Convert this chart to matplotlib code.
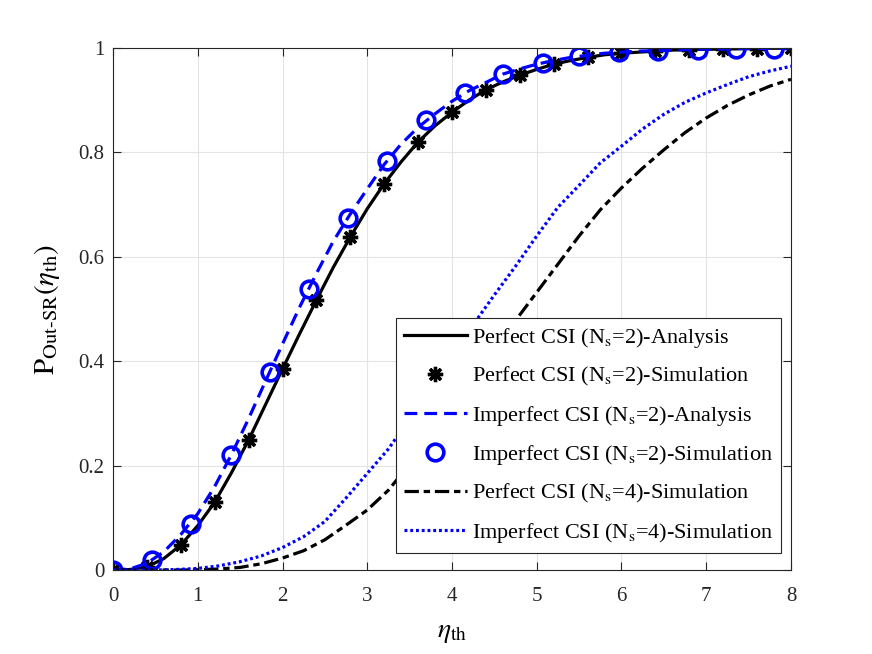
import matplotlib
matplotlib.use("Agg")
import matplotlib.pyplot as plt

plt.rcParams["font.family"] = ["Liberation Serif", "DejaVu Serif"]
plt.rcParams["mathtext.fontset"] = "stix"

# ---- data ----
# Perfect CSI (Ns=2) analysis curve
x_perf_ana = [0.0, 0.2, 0.4, 0.6, 0.8, 1.0, 1.2, 1.4, 1.6, 1.8, 2.0, 2.2, 2.4, 2.6, 2.8, 3.0,
              3.2, 3.4, 3.6, 3.8, 4.0, 4.2, 4.4, 4.6, 4.8, 5.0, 5.2, 5.4, 5.6, 5.8, 6.0,
              6.2, 6.4, 6.6, 6.8, 7.0, 7.2, 7.4, 7.6, 7.8, 8.0]
y_perf_ana = [0.0, 0.001, 0.006, 0.022, 0.048, 0.085, 0.13, 0.187, 0.249, 0.317, 0.385,
              0.452, 0.517, 0.58, 0.638, 0.692, 0.74, 0.782, 0.82, 0.851, 0.877, 0.9,
              0.92, 0.935, 0.948, 0.959, 0.969, 0.976, 0.982, 0.987, 0.99, 0.992, 0.994,
              0.996, 0.997, 0.9975, 0.998, 0.9985, 0.999, 0.9995, 1.0]

# Perfect CSI (Ns=2) simulation points
x_perf_sim = [0.0, 0.4, 0.8, 1.2, 1.6, 2.0, 2.4, 2.8, 3.2, 3.6, 4.0, 4.4, 4.8, 5.2, 5.6,
              6.0, 6.4, 6.8, 7.2, 7.6, 8.0]
y_perf_sim = [0.0, 0.006, 0.048, 0.13, 0.249, 0.385, 0.517, 0.638, 0.74, 0.82, 0.877,
              0.92, 0.948, 0.969, 0.982, 0.99, 0.994, 0.997, 0.998, 0.999, 1.0]

# Imperfect CSI (Ns=2) analysis curve
x_imp_ana = x_perf_ana
y_imp_ana = [0.0, 0.002, 0.013, 0.035, 0.068, 0.108, 0.16, 0.222, 0.29, 0.362, 0.433,
             0.503, 0.568, 0.63, 0.682, 0.73, 0.777, 0.816, 0.848, 0.874, 0.898, 0.918,
             0.934, 0.95, 0.96, 0.969, 0.976, 0.982, 0.986, 0.99, 0.992, 0.994, 0.995,
             0.996, 0.997, 0.998, 0.998, 0.999, 0.999, 0.9995, 1.0]

# Imperfect CSI (Ns=2) simulation points
x_imp_sim = [0.0, 0.46, 0.92, 1.39, 1.85, 2.31, 2.77, 3.23, 3.69, 4.15, 4.6, 5.07, 5.5,
             5.97, 6.43, 6.9, 7.35, 7.8]
y_imp_sim = [0.0, 0.019, 0.088, 0.22, 0.379, 0.538, 0.674, 0.783, 0.862, 0.914, 0.95,
             0.971, 0.985, 0.992, 0.995, 0.997, 0.998, 0.999]

# Ns=4 simulation curves
x_ns4 = [0.0, 0.25, 0.5, 0.75, 1.0, 1.25, 1.5, 1.75, 2.0, 2.25, 2.5, 2.75, 3.0, 3.25,
         3.5, 3.75, 4.0, 4.25, 4.5, 4.75, 5.0, 5.25, 5.5, 5.75, 6.0, 6.25, 6.5, 6.75,
         7.0, 7.25, 7.5, 7.75, 8.0]
y_perf_ns4 = [0.0, 0.0, 0.0, 0.0, 0.0005, 0.002, 0.005, 0.012, 0.023, 0.037, 0.058,
              0.086, 0.115, 0.153, 0.203, 0.255, 0.31, 0.365, 0.422, 0.478, 0.532, 0.586,
              0.64, 0.69, 0.732, 0.77, 0.805, 0.838, 0.866, 0.89, 0.91, 0.927, 0.94]
y_imp_ns4 = [0.0, 0.0, 0.0, 0.001, 0.003, 0.008, 0.016, 0.027, 0.043, 0.064, 0.093,
             0.138, 0.185, 0.232, 0.29, 0.35, 0.41, 0.47, 0.527, 0.582, 0.64, 0.695,
             0.737, 0.78, 0.812, 0.845, 0.873, 0.896, 0.914, 0.93, 0.945, 0.956, 0.965]

labels = [r"Perfect CSI (N$_{\mathrm{s}}$=2)-Analysis",
          r"Perfect CSI (N$_{\mathrm{s}}$=2)-Simulation",
          r"Imperfect CSI (N$_{\mathrm{s}}$=2)-Analysis",
          r"Imperfect CSI (N$_{\mathrm{s}}$=2)-Simulation",
          r"Perfect CSI (N$_{\mathrm{s}}$=4)-Simulation",
          r"Imperfect CSI (N$_{\mathrm{s}}$=4)-Simulation"]

x_ticks = [0, 1, 2, 3, 4, 5, 6, 7, 8]
y_ticks = [0, 0.2, 0.4, 0.6, 0.8, 1]
y_ticklabels = ["0", "0.2", "0.4", "0.6", "0.8", "1"]

# ---- plot ----
fig = plt.figure(figsize=(8.72, 6.54), dpi=100)
ax = fig.add_axes([0.1296, 0.1284, 0.7775, 0.7982])

ax.plot(x_perf_ana, y_perf_ana, "k-", lw=2.3, label=labels[0])
ax.plot(x_perf_sim, y_perf_sim, ls="none", marker=(8, 2, 0), ms=11, mew=2.4,
        color="k", label=labels[1])
ax.plot(x_imp_ana, y_imp_ana, "--", color="b", lw=2.3, dashes=(4, 2.2), label=labels[2])
ax.plot(x_imp_sim, y_imp_sim, ls="none", marker="o", ms=12, mew=2.6, mfc="none",
        mec="b", label=labels[3])
ax.plot(x_ns4, y_perf_ns4, color="k", lw=2.3, dashes=(4.5, 1.5, 2.0, 1.5), label=labels[4])
ax.plot(x_ns4, y_imp_ns4, color="b", lw=2.3, dashes=(0.9, 0.9), label=labels[5])

ax.set_xlim(0, 8)
ax.set_ylim(0, 1)
ax.set_xticks(x_ticks)
ax.set_yticks(y_ticks)
ax.set_yticklabels(y_ticklabels)
ax.grid(True, color="#e3e3e3", lw=0.8)
ax.set_axisbelow(True)
ax.tick_params(direction="in", top=True, right=True, labelsize=15, length=6,
               width=0.8, colors="#262626", pad=6)
ax.tick_params(axis="x", pad=12)
for sp in ax.spines.values():
    sp.set_color("#262626")
    sp.set_linewidth(0.8)

ax.set_xlabel(r"$\eta_{\mathrm{th}}$", fontsize=20, labelpad=10)
ylab = "$\\mathrm{P}_{\\mathrm{Out" + "\u2010" + "SR}}(\\eta_{\\mathrm{th}})$"
ax.set_ylabel(ylab, fontsize=21, labelpad=12)

leg = ax.legend(loc="lower right", bbox_to_anchor=(0.985, 0.033), borderaxespad=0,
                fontsize=16, fancybox=False, framealpha=1, edgecolor="#262626",
                handlelength=2.85, labelspacing=0.69, borderpad=0.36, handletextpad=0.22)
leg.get_frame().set_linewidth(0.8)

fig.savefig("out.png", dpi=100)
